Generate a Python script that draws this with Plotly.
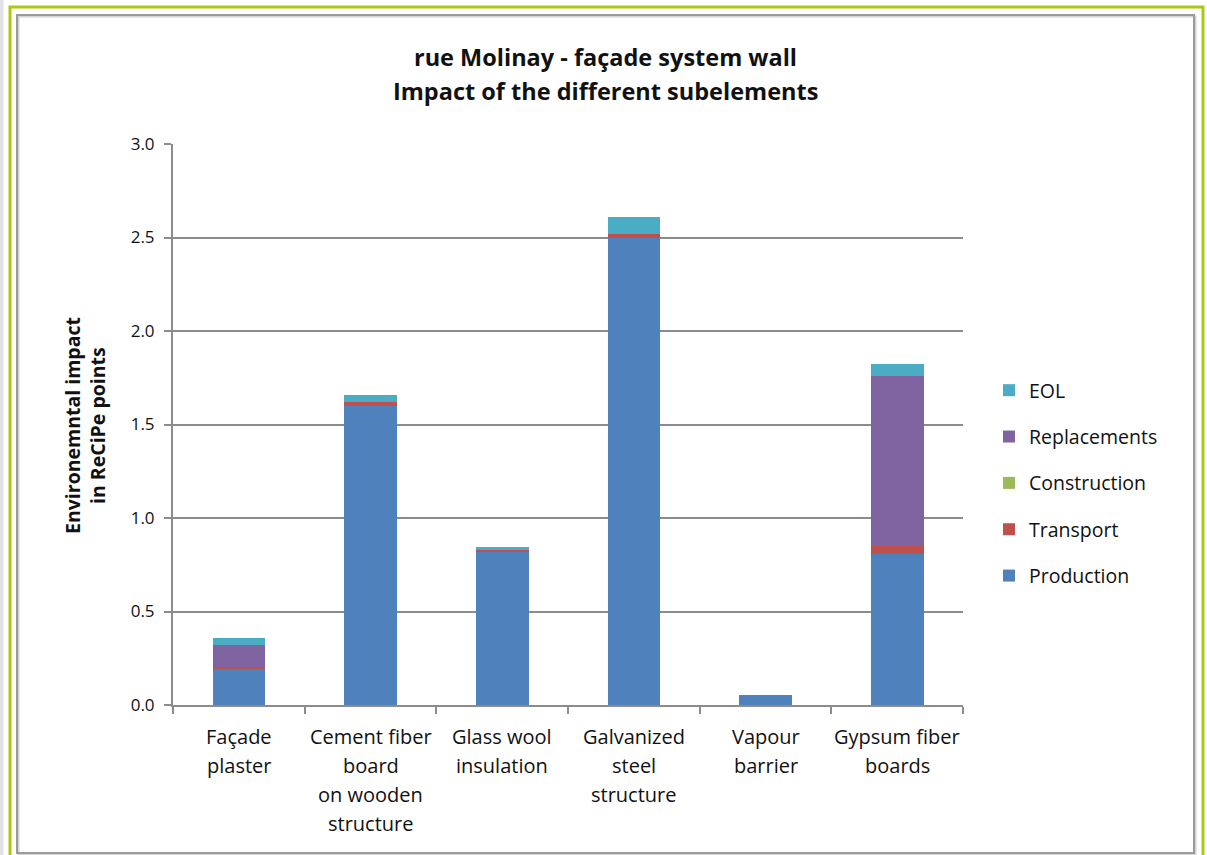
import plotly.graph_objects as go

# Sub-elements of the façade wall (x categories, each line of the label separately)
categories = ["Façade plaster", "Cement fiber board on wooden structure", "Glass wool insulation",
              "Galvanized steel structure", "Vapour barrier", "Gypsum fiber boards"]
label_lines = [["Façade", "plaster"],
               ["Cement fiber", "board", "on wooden", "structure"],
               ["Glass wool", "insulation"],
               ["Galvanized", "steel", "structure"],
               ["Vapour", "barrier"],
               ["Gypsum fiber", "boards"]]

# Life-cycle stages, ReCiPe points
production = [0.19, 1.60, 0.82, 2.50, 0.055, 0.81]
transport = [0.012, 0.022, 0.01, 0.018, 0.0, 0.04]
construction = [0.0, 0.0, 0.0, 0.0, 0.0, 0.0]
replacements = [0.12, 0.0, 0.0, 0.0, 0.0, 0.91]
eol = [0.035, 0.035, 0.015, 0.09, 0.0, 0.065]

series = [("Production", production, "#4F81BD"),
          ("Transport", transport, "#C0504D"),
          ("Construction", construction, "#9BBB59"),
          ("Replacements", replacements, "#8064A2"),
          ("EOL", eol, "#4BACC6")]

W, H = 1207, 855
ML, MR, MT, MB = 173, 244, 144, 150
PW, PH = W - ML - MR, H - MT - MB


def px(x):
    return (x - ML) / PW


def py(y):
    return (H - MB - y) / PH


FONT = "Open Sans, Liberation Sans, sans-serif"

fig = go.Figure()
n = len(series)
for i, (name, vals, color) in enumerate(series):
    fig.add_trace(go.Bar(x=categories, y=vals, name=name, legendgroup=name, legendrank=n - i,
                         marker=dict(color=color, line=dict(width=0))))

annotations = []
# x-axis category labels, one annotation per text line
for cat, lines in zip(categories, label_lines):
    for i, line in enumerate(lines):
        annotations.append(dict(x=cat, xref="x", y=py(736 + i * 29.3), yref="paper",
                                text=line, showarrow=False, xanchor="center", yanchor="middle",
                                font=dict(size=20, color="#111111", family=FONT)))

# chart title
for text, yy in [("rue Molinay - façade system wall", 57), ("Impact of the different subelements", 91)]:
    annotations.append(dict(x=px(605), xref="paper", y=py(yy), yref="paper", text=f"<b>{text}</b>",
                            showarrow=False, xanchor="center", yanchor="middle",
                            font=dict(size=23.5, color="#111111", family=FONT)))

# y-axis title
for text, xx in [("Environemntal impact", 72), ("in ReCiPe points", 97)]:
    annotations.append(dict(x=px(xx), xref="paper", y=py(426), yref="paper", text=f"<b>{text}</b>",
                            showarrow=False, textangle=-90, xanchor="center", yanchor="middle",
                            font=dict(size=19.5, color="#111111", family=FONT)))

shapes = [
    dict(type="rect", xref="paper", yref="paper", x0=px(0), x1=px(3.5), y0=py(0), y1=py(H),
         fillcolor="#e2e2e2", line=dict(width=0), layer="below"),
    dict(type="rect", xref="paper", yref="paper", x0=px(10), x1=px(1203), y0=py(7), y1=py(H + 10),
         fillcolor="rgba(0,0,0,0)", line=dict(color="#acc90f", width=3), layer="below"),
    dict(type="rect", xref="paper", yref="paper", x0=px(18.5), x1=px(1195.5), y0=py(16.5), y1=py(854.5),
         fillcolor="rgba(0,0,0,0)", line=dict(color="#d4d4d4", width=2), layer="below"),
    dict(type="rect", xref="paper", yref="paper", x0=px(17), x1=px(1194), y0=py(15), y1=py(853),
         fillcolor="rgba(0,0,0,0)", line=dict(color="#9a9a9a", width=2), layer="below"),
]

fig.update_layout(
    width=W, height=H,
    margin=dict(l=ML, r=MR, t=MT, b=MB),
    paper_bgcolor="white", plot_bgcolor="white",
    barmode="stack", bargap=0.6,
    font=dict(family=FONT, color="#111111"),
    showlegend=True,
    legend=dict(x=px(989), y=py(371), xanchor="left", yanchor="top",
                traceorder="grouped", tracegroupgap=18,
                font=dict(size=19.5, color="#111111", family=FONT),
                bgcolor="rgba(0,0,0,0)"),
    annotations=annotations,
    shapes=shapes,
)
fig.update_xaxes(showticklabels=False, ticks="outside", tickson="boundaries", ticklen=7,
                 tickcolor="#8c8c8c", tickwidth=2, showline=True, linecolor="#8c8c8c",
                 linewidth=2, showgrid=False, range=[-0.5, 5.5])
fig.update_yaxes(range=[0, 3.0], dtick=0.5, tickformat=".1f", showgrid=True, gridcolor="#8c8c8c",
                 gridwidth=2, showline=True, linecolor="#8c8c8c", linewidth=2, ticks="outside",
                 ticklen=7, tickcolor="#8c8c8c", tickwidth=2, zeroline=False, ticklabelstandoff=6,
                 tickfont=dict(size=17, color="#111111", family=FONT))

fig.write_html("out.html")
